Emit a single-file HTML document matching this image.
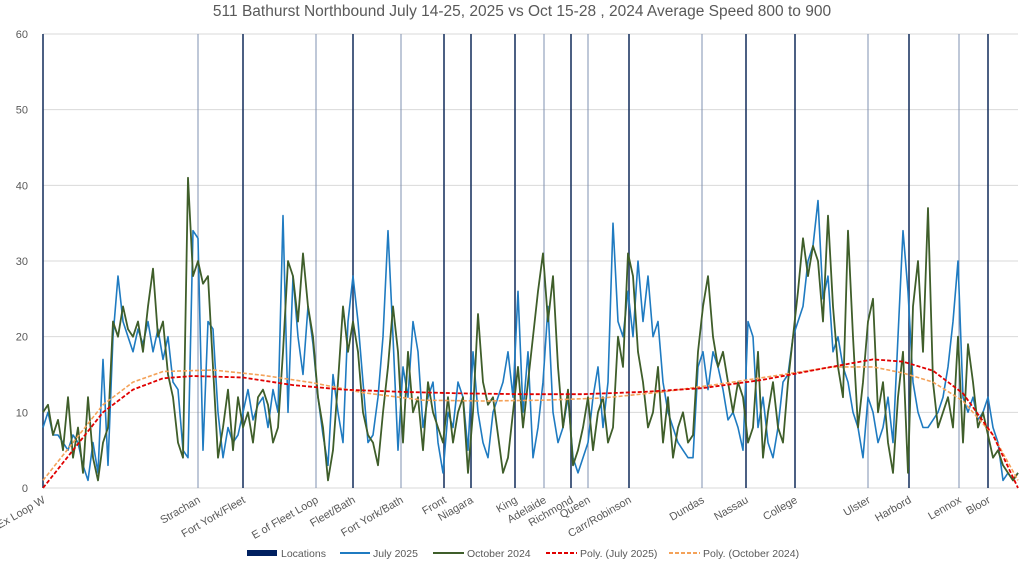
<!DOCTYPE html>
<html><head><meta charset="utf-8"><style>
body{margin:0;background:#fff;width:1024px;height:565px;overflow:hidden;font-family:"Liberation Sans",sans-serif}
svg text{font-family:"Liberation Sans",sans-serif;fill:#595959}
</style></head><body>
<svg id="chart" width="1024" height="565">
<text x="522" y="16" text-anchor="middle" font-size="15.5">511 Bathurst Northbound July 14-25, 2025 vs Oct 15-28 , 2024 Average Speed 800 to 900</text>
<g id="grid"></g><g id="yt"></g><g id="locs"></g><g id="series"></g><g id="xl"></g>
<g id="legend">
<rect x="247" y="550" width="30" height="6" fill="#002060"/>
<text x="281" y="557" font-size="10.5">Locations</text>
<line x1="340" y1="553" x2="370" y2="553" stroke="#1f7bc1" stroke-width="2"/>
<text x="373" y="557" font-size="10.5">July 2025</text>
<line x1="433" y1="553" x2="464" y2="553" stroke="#3f5e2a" stroke-width="2"/>
<text x="467" y="557" font-size="10.5">October 2024</text>
<line x1="546" y1="553" x2="577" y2="553" stroke="#e00000" stroke-width="2" stroke-dasharray="4,2"/>
<text x="580" y="557" font-size="10.5">Poly. (July 2025)</text>
<line x1="669" y1="553" x2="700" y2="553" stroke="#f4a259" stroke-width="2" stroke-dasharray="4,2"/>
<text x="703" y="557" font-size="10.5">Poly. (October 2024)</text>
</g>
</svg>
<script>
const yTicks=[0,10,20,30,40,50,60];
const july=[8,10,7,7,6,5,7,6,3,1,6,2,17,3,20,28,22,20,18,21,19,22,18,21,17,20,14,13,5,4,34,33,5,22,21,10,4,8,6,7,10,13,9,11,12,8,13,10,36,10,28,20,15,24,19,12,7,3,15,10,6,22,28,22,14,6,7,12,20,34,20,5,16,12,22,18,8,12,14,6,2,10,8,14,12,5,18,10,6,4,10,12,14,18,12,26,10,18,4,8,14,24,10,6,8,12,4,2,4,6,12,16,8,14,35,22,20,26,20,30,22,28,20,22,14,10,8,6,5,4,4,16,18,13,18,16,13,9,10,8,5,22,20,8,12,6,4,8,14,15,20,22,24,30,32,38,25,28,18,20,16,14,10,8,4,12,10,6,8,12,6,20,34,26,14,10,8,8,9,10,12,16,22,30,12,10,12,9,10,12,8,6,1,2,1,2];
const october=[10,11,7,9,5,12,4,8,2,12,4,1,6,8,22,20,24,21,20,22,18,24,29,20,22,15,12,6,4,41,28,30,27,28,16,4,8,13,5,12,8,10,6,12,13,11,6,8,18,30,28,22,31,24,20,12,8,1,5,14,24,18,22,18,10,7,6,3,10,16,24,18,6,18,10,12,5,14,10,8,6,12,6,10,12,2,10,23,14,11,12,7,2,4,10,16,8,14,20,26,31,22,28,16,8,13,3,5,8,12,5,10,12,6,8,20,16,31,28,18,14,8,10,16,6,12,4,8,10,6,7,18,24,28,20,16,18,14,10,14,12,6,8,18,4,10,14,8,6,14,20,26,33,28,32,30,22,36,24,16,12,34,20,8,14,22,25,10,14,6,2,12,18,2,24,30,18,37,14,8,10,12,8,20,6,19,14,8,10,7,4,5,3,2,1,2];
const polyJulyIdx=[0,6,12,18,24,30,40,50,60,72,84,96,108,120,132,144,156,166,172,178,184,190,195];
const polyJulyVal=[0,5,10,13,14.5,14.8,14.6,13.6,13,12.7,12.5,12.4,12.4,12.7,13.2,14.3,15.8,17,16.7,15.5,12.5,7,0];
const polyOctIdx=[0,6,12,18,24,34,44,54,64,76,88,100,112,124,136,148,158,166,172,178,184,190,195];
const polyOctVal=[1,6,11,14,15.4,15.6,14.9,13.9,12.6,11.6,11.5,11.6,11.9,12.7,13.8,15,16,16,15.2,14,11.5,7,1];
const locNames=["Ex Loop W","Strachan","Fort York/Fleet","E of Fleet Loop","Fleet/Bath","Fort York/Bath","Front","Niagara","King","Adelaide","Richmond","Queen","Carr/Robinson","Dundas","Nassau","College","Ulster","Harbord","Lennox","Bloor"];
const locIdx=[0,31,40,54.6,62,71.6,80.2,85.6,94.4,100.2,105.6,109,117.2,131.8,140.6,150.4,165,173.2,183.2,189];
const locDark=[1,0,1,0,1,0,1,1,1,0,1,0,1,0,1,1,0,1,0,1];
const N=july.length, X0=43, X1=1018, Y0=488, Y1=34;
const xs=i=>X0+i*(X1-X0)/(N-1);
const ys=v=>Y0-v*(Y0-Y1)/60;
const NS="http://www.w3.org/2000/svg";
function mk(t,a,p){const e=document.createElementNS(NS,t);for(const k in a)e.setAttribute(k,a[k]);document.getElementById(p).appendChild(e);return e;}
yTicks.forEach(v=>{
 const l=mk('line',{x1:X0,x2:X1,y1:ys(v),y2:ys(v),stroke:'#d9d9d9','stroke-width':1},'grid');
 
 
 const t=mk('text',{x:28,y:ys(v)+4,'text-anchor':'end','font-size':11},'yt');t.textContent=v;
 
 
});
locIdx.forEach((ix,k)=>{
 const x=xs(ix);
 const l=mk('line',{x1:x,x2:x,y1:Y1,y2:Y0,stroke:locDark[k]?'#1f3864':'#7f90b0','stroke-width':locDark[k]?1.6:1},'locs');
 
 
 const t=mk('text',{x:x+3,y:502,'text-anchor':'end','font-size':11,transform:`rotate(-30 ${x+3} 502)`},'xl');
 t.textContent=locNames[k];
 
 
});
function line(idx,vals,col,w,dash,name){
 const d=vals.map((v,i)=>(i?'L':'M')+xs(idx?idx[i]:i).toFixed(1)+','+ys(v).toFixed(1)).join('');
 const p=mk('path',{d:d,fill:'none',stroke:col,'stroke-width':w,'stroke-linejoin':'round'},'series');
 if(dash)p.setAttribute('stroke-dasharray',dash);
 
 
}
line(null,july,'#1f7bc1',1.6,null,'july-2025-line');
line(null,october,'#3f5e2a',1.8,null,'october-2024-line');
line(polyOctIdx,polyOctVal,'#f4a259',1.6,'4,2','poly-october-2024');
line(polyJulyIdx,polyJulyVal,'#e00000',1.8,'4,2','poly-july-2025');
</script>
</body></html>
